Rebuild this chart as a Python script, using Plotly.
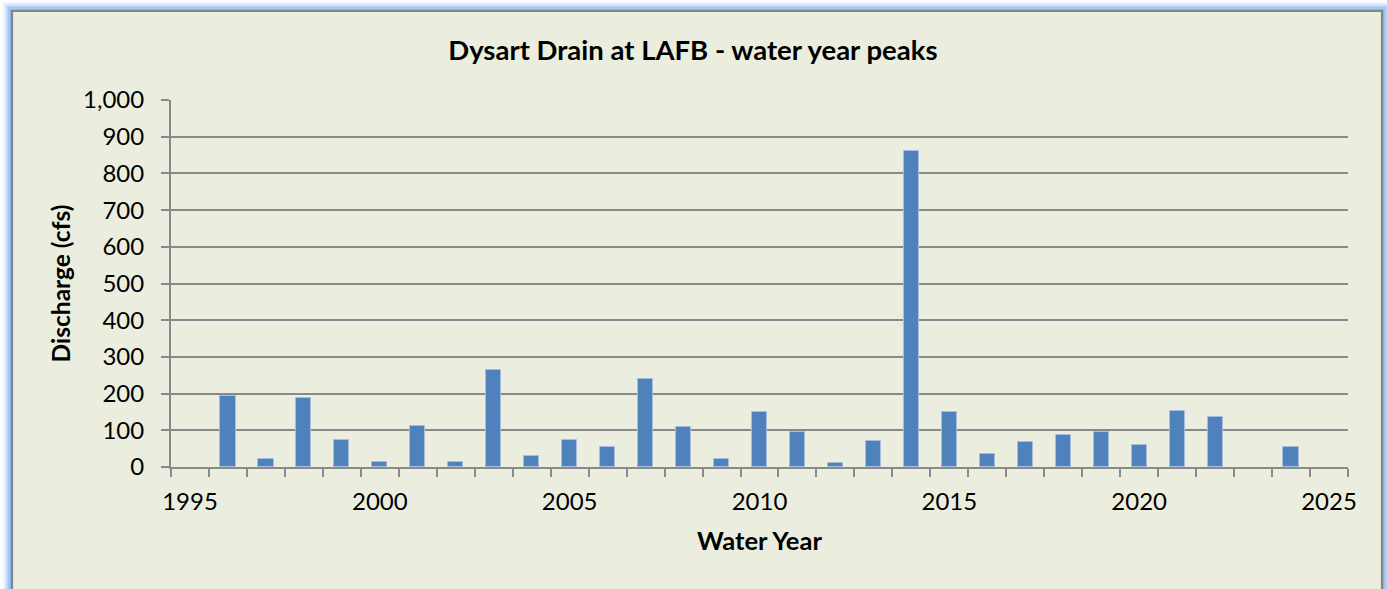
import plotly.graph_objects as go

# Annual peak discharge, Dysart Drain at LAFB (water years 1995-2025)
years = list(range(1995, 2026))
peaks_cfs = [None, 194, 22, 188, 73, 13, 112, 15, 264, 29, 73,
             55, 239, 109, 23, 150, 96, 11, 72, 862, 150,
             35, 68, 88, 95, 61, 153, 137, None, 55, None]

y_ticks = [0, 100, 200, 300, 400, 500, 600, 700, 800, 900, 1000]
y_tick_text = ["0", "100", "200", "300", "400", "500", "600", "700", "800", "900", "1,000"]
x_ticks = [1995, 2000, 2005, 2010, 2015, 2020, 2025]

W, H = 1387, 589
ML, MR, MT, MB = 171, 39, 100, 122
PW, PH = W - ML - MR, H - MT - MB

FONT = "Lato, 'Open Sans', sans-serif"
GRID = "#898989"
PANEL = "#EBEEDF"


def px_x(x):
    return (x - ML) / PW


def px_y(y):
    return (H - MB - y) / PH


fig = go.Figure(
    go.Bar(
        x=years,
        y=peaks_cfs,
        width=0.4,
        marker=dict(color="#4F81BD", line=dict(color="#A7BEDD", width=1)),
        hoverinfo="x+y",
    )
)

# chart panel with grey border and soft blue glow
shapes = []
glow = ["rgba(140,185,240,1.0)", "rgba(150,190,242,0.9)", "rgba(162,198,244,0.75)",
        "rgba(178,208,246,0.6)", "rgba(195,220,249,0.45)", "rgba(212,230,251,0.32)",
        "rgba(228,239,253,0.2)", "rgba(242,247,255,0.12)"]
x0, y0, x1, y1 = 12, 11, 1382, 620
for i, c in enumerate(glow):
    o = 1.8 + i * 1.3
    shapes.append(dict(type="rect", xref="paper", yref="paper", layer="below",
                       x0=px_x(x0 - o), x1=px_x(x1 + o), y0=px_y(y1 + o), y1=px_y(y0 - o),
                       line=dict(color=c, width=1.6), fillcolor="rgba(0,0,0,0)"))
shapes.append(dict(type="rect", xref="paper", yref="paper", layer="below",
                   x0=px_x(x0), x1=px_x(x1), y0=px_y(y1), y1=px_y(y0),
                   line=dict(color="#7F8888", width=2.2), fillcolor=PANEL))

fig.update_layout(
    width=W, height=H,
    margin=dict(l=ML, r=MR, t=MT, b=MB, pad=0),
    paper_bgcolor="white",
    plot_bgcolor="white",
    showlegend=False,
    bargap=0,
    font=dict(family=FONT, size=24, color="#000000"),
    title=dict(text="<b>Dysart Drain at LAFB - water year peaks</b>",
               font=dict(family=FONT, size=27.5, color="#000000"),
               xref="container", x=0.4996, xanchor="center",
               yref="container", y=1 - 50 / H, yanchor="middle"),
    shapes=shapes,
    xaxis=dict(
        range=[1994.5, 2025.5],
        tickmode="array", tickvals=x_ticks, ticktext=[str(v) for v in x_ticks],
        ticks="", ticklabelstandoff=12,
        showgrid=False, zeroline=False,
        showline=True, linecolor=GRID, linewidth=2,
        minor=dict(ticks="outside", tick0=1994.5, dtick=1, ticklen=8,
                   tickcolor=GRID, tickwidth=2, showgrid=False),
        tickfont=dict(family=FONT, size=24),
        title=dict(text="<b>Water Year</b>", standoff=18,
                   font=dict(family=FONT, size=25.5)),
        fixedrange=True,
    ),
    yaxis=dict(
        range=[0, 1000],
        tickmode="array", tickvals=y_ticks, ticktext=y_tick_text,
        ticks="outside", ticklen=8, tickcolor=GRID, tickwidth=2,
        ticklabelstandoff=12,
        showgrid=True, gridcolor=GRID, gridwidth=2,
        zeroline=False,
        showline=True, linecolor=GRID, linewidth=2,
        tickfont=dict(family=FONT, size=24),
        title=dict(text="<b>Discharge (cfs)</b>", standoff=5,
                   font=dict(family=FONT, size=24.5)),
        fixedrange=True,
    ),
)

fig.write_html("out.html")
